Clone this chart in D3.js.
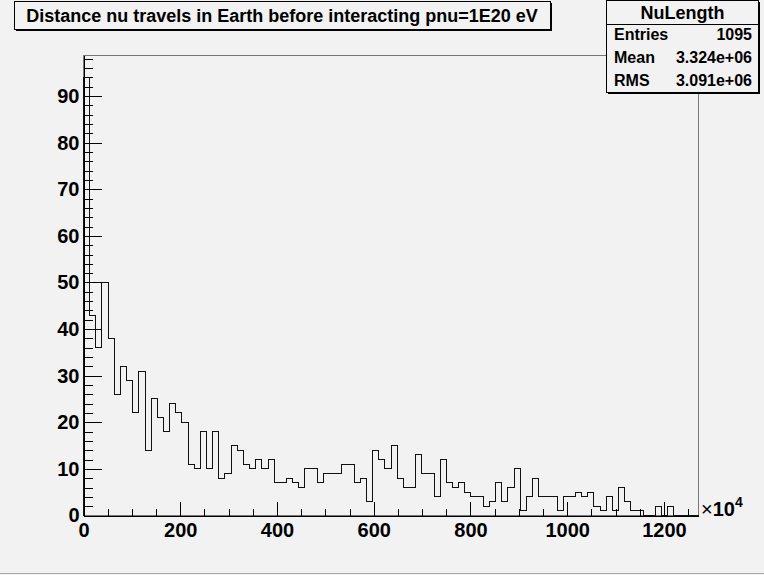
<!DOCTYPE html>
<html>
<head>
<meta charset="utf-8">
<script src="https://d3js.org/d3.v7.min.js"></script>
<style>
  body { margin: 0; background: #f2f2f2; }
  svg { display: block; font-family: "Liberation Sans", Arial, Helvetica, sans-serif; font-weight: bold; }
  .axis text { font-size: 20px; font-weight: bold; fill: #000; }
  .axis line, .axis path { stroke: #000; shape-rendering: crispEdges; }
</style>
</head>
<body>
<svg id="svg" width="764" height="575"></svg>
<script>
// histogram NuLength: 100 bins from 0 to xMax (x10^4 m)
var title = "Distance nu travels in Earth before interacting pnu=1E20 eV";
var histName = "NuLength";
var xMax = 1271.36;
var yMax = 98.7;
var counts = [
  94, 43, 36, 50, 38, 26, 32, 29, 22, 31,
  14, 25, 21, 18, 24, 22, 20, 11, 10, 18,
  10, 18,  8,  9, 15, 14, 11, 10, 12, 10,
  12,  7,  7,  8,  7,  6, 10, 10,  7,  9,
   9,  9, 11, 11,  7,  8,  3, 14, 12, 10,
  15,  8,  6,  6, 13,  9,  9,  4, 12,  7,
   6,  7,  5,  4,  4,  2,  3,  7,  3,  6,
  10,  1,  4,  8,  4,  4,  4,  1,  4,  4,
   5,  4,  5,  2,  1,  4,  1,  6,  3,  1,
   1,  0,  0,  2,  0,  2,  0,  0,  0,  0
];
var xMajor = [0, 200, 400, 600, 800, 1000, 1200];
var xMinor = d3.range(0, 1271, 50);
var yMajor = [0, 10, 20, 30, 40, 50, 60, 70, 80, 90];
var yMinor = d3.range(0, 99, 2);
var statLabels = ["Entries", "Mean", "RMS"];
var statValues = ["1095", "3.324e+06", "3.091e+06"];

var svg = d3.select("#svg");
var L = 83.5, R = 698.5, T = 55.5, B = 515.5;

var x = d3.scaleLinear().domain([0, xMax]).range([L, R]);
var y = d3.scaleLinear().domain([0, yMax]).range([B, T]);

// frame
svg.append("rect")
  .attr("x", L).attr("y", T).attr("width", R - L).attr("height", B - T)
  .style("fill", "none").style("stroke", "#777").style("shape-rendering", "crispEdges");

// histogram outline
var binW = xMax / counts.length;
var pts = [[0, 0]];
counts.forEach(function(v, i) { pts.push([i * binW, v]); });
pts.push([xMax, 0]);
var line = d3.line()
  .x(function(d) { return x(d[0]); })
  .y(function(d) { return y(d[1]); })
  .curve(d3.curveStepAfter);
svg.append("path")
  .attr("d", line(pts))
  .style("fill", "none").style("stroke", "#111").style("stroke-width", 1)
  .style("shape-rendering", "crispEdges");

// x axis
svg.append("g").attr("class", "axis").attr("transform", "translate(0," + B + ")")
  .call(d3.axisBottom(x).tickValues(xMinor).tickSize(-7).tickSizeOuter(0).tickFormat(""));
var gx = svg.append("g").attr("class", "axis").attr("transform", "translate(0," + B + ")")
  .call(d3.axisBottom(x).tickValues(xMajor).tickSize(-14).tickSizeOuter(0).tickPadding(7).tickFormat(d3.format("d")));
gx.select(".domain").remove();

// y axis
svg.append("g").attr("class", "axis").attr("transform", "translate(" + L + ",0)")
  .call(d3.axisLeft(y).tickValues(yMinor).tickSize(-9).tickSizeOuter(0).tickFormat(""));
var gy = svg.append("g").attr("class", "axis").attr("transform", "translate(" + L + ",0)")
  .call(d3.axisLeft(y).tickValues(yMajor).tickSize(-18.5).tickSizeOuter(0).tickPadding(4).tickFormat(d3.format("d")));
gy.select(".domain").remove();

// exponent label
var ex = svg.append("text").attr("x", 701).attr("y", 516).style("font-size", "20px");
ex.append("tspan").style("font-weight", "normal").text("\u00d7");
ex.append("tspan").text("10");
ex.append("tspan").attr("dy", -9).style("font-size", "14px").text("4");

// title box
svg.append("rect").attr("x", 16).attr("y", 3).attr("width", 536).attr("height", 28).style("fill", "#000");
svg.append("rect").attr("x", 14.5).attr("y", 1.5).attr("width", 536).attr("height", 28)
  .style("fill", "#f2f2f2").style("stroke", "#000").style("shape-rendering", "crispEdges");
svg.append("text").attr("x", 282).attr("y", 22).attr("text-anchor", "middle")
  .style("font-size", "18px").text(title);

// stats box
svg.append("rect").attr("x", 608).attr("y", 2).attr("width", 152).attr("height", 92).style("fill", "#000");
svg.append("rect").attr("x", 606.5).attr("y", 0.5).attr("width", 152).attr("height", 92)
  .style("fill", "#f2f2f2").style("stroke", "#000").style("shape-rendering", "crispEdges");
svg.append("line").attr("x1", 606.5).attr("x2", 758.5).attr("y1", 24.5).attr("y2", 24.5)
  .style("stroke", "#000").style("shape-rendering", "crispEdges");
svg.append("text").attr("x", 682.5).attr("y", 19).attr("text-anchor", "middle")
  .style("font-size", "18px").text(histName);
statLabels.forEach(function(s, i) {
  svg.append("text").attr("x", 614).attr("y", 40 + 23 * i).style("font-size", "16px").text(s);
  svg.append("text").attr("x", 752).attr("y", 40 + 23 * i).attr("text-anchor", "end")
    .style("font-size", "16px").text(statValues[i]);
});

// canvas bottom edge
svg.append("line").attr("x1", 0).attr("x2", 764).attr("y1", 573.5).attr("y2", 573.5)
  .style("stroke", "#aaa");
</script>
</body>
</html>
